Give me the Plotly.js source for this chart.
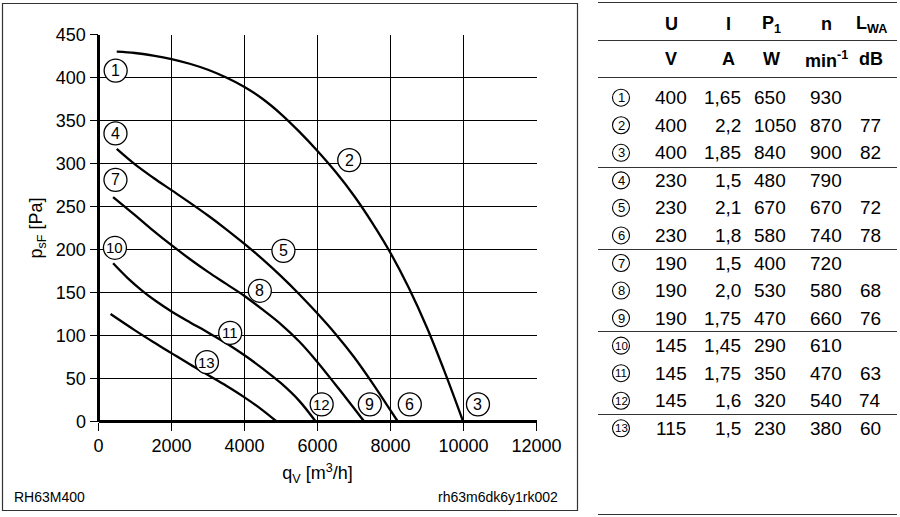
<!DOCTYPE html>
<html><head><meta charset="utf-8">
<script src="https://cdn.plot.ly/plotly-3.0.1.min.js"></script>
<style>html,body{margin:0;padding:0;background:#fff}#chart{width:900px;height:517px}</style>
</head><body><div id="chart"></div><script>
// ---- fan curves (q_V in m3/h, p_sF in Pa) ----
const q123 = [500,1000,1500,2000,2500,3000,3500,4000,4500,5000,5500,6000,6500,7000,7500,8000,8500,9000,9500,9990];
const p123 = [430,428.5,425.5,421.5,416,409,400,389,375,357.5,337,314.5,290,262.5,231,196,155.5,109,56,0];
const q456 = [500,1000,1500,2000,2500,3000,3500,4000,4500,5000,5500,6000,6500,7000,7500,8000,8200];
const p456 = [317,299,283.5,269,254.5,239.5,223.5,206.5,188.5,169,148,125.5,101.5,75,45,13,0];
const q789 = [400,1000,1500,2000,2500,3000,3500,4000,4500,5000,5500,6000,6500,7000,7280];
const p789 = [261,240,222,205,189,174,160,146,130,113,93,69,42.5,15.5,0];
const q101112 = [400,800,1200,1600,2000,2500,3000,3500,4000,4500,5000,5500,5950];
const p101112 = [184,166.8,152,139.2,128,115.5,103.5,91,77,61.5,44.5,24,0];
const q13 = [330,1000,1500,2000,2500,3000,3500,4000,4500,4880];
const p13 = [125,106,92.5,79.5,66.5,54,41.5,28,13,0];

// ---- operating point labels on the chart ----
const labelNames = ['1','2','3','4','5','6','7','8','9','10','11','12','13'];
const labelQ = [470,6870,10396,465,5066,8529,465,4420,7435,450,3608,6114,2970];
const labelP = [408,304,20,335,198.5,20,281,152,20,202,103,20,69];

// ---- axis ticks ----
const xTicks = [0,2000,4000,6000,8000,10000,12000];
const yTicks = [0,50,100,150,200,250,300,350,400,450];

// ---- table ----
const headTop = ['U','I','P<sub>1</sub>','n','L<sub>WA</sub>'];
const headUnit = ['V','A','W','min<sup>-1</sup>','dB'];
const tableU = ['400','400','400','230','230','230','190','190','190','145','145','145','115'];
const tableI = ['1,65','2,2','1,85','1,5','2,1','1,8','1,5','2,0','1,75','1,45','1,75','1,6','1,5'];
const tableP = ['650','1050','840','480','670','580','400','530','470','290','350','320','230'];
const tableN = ['930','870','900','790','670','740','720','580','660','610','470','540','380'];
const tableL = ['','77','82','','72','78','','68','76','','63','74','60'];
const modelLeft = 'RH63M400';
const modelRight = 'rh63m6dk6y1rk002';

const FONT = '"Liberation Sans", Arial, Helvetica, sans-serif';
const curveLine = {color:'#000', width:2.3, shape:'spline', smoothing:1};

const traces = [];
[[q123,p123],[q456,p456],[q789,p789],[q101112,p101112],[q13,p13]].forEach(c => {
  traces.push({type:'scatter', mode:'lines', x:c[0], y:c[1], line:curveLine, hoverinfo:'skip', xaxis:'x', yaxis:'y'});
});
// circles of the chart labels
traces.push({
  type:'scatter', mode:'markers', x:labelQ, y:labelP,
  marker:{symbol:'circle', size:23, color:'#fff', line:{color:'#000', width:1.3}},
  hoverinfo:'skip', xaxis:'x', yaxis:'y', cliponaxis:false
});

// table geometry (pixel coordinates on hidden axis x2/y2)
const rowY0 = 97.7, rowStep = 27.55;
const rowYs = tableU.map((_, i) => rowY0 + i*rowStep);
traces.push({
  type:'scatter', mode:'markers', x:rowYs.map(() => 621), y:rowYs,
  marker:{symbol:'circle', size:17, color:'#fff', line:{color:'#000', width:1.1}},
  hoverinfo:'skip', xaxis:'x2', yaxis:'y2', cliponaxis:false
});

const annotations = [];
labelNames.forEach((t, i) => {
  annotations.push({xref:'x', yref:'y', x:labelQ[i], y:labelP[i], text:t, showarrow:false, xanchor:'center', yanchor:'middle',
    font:{family:FONT, size:t.length > 1 ? 15 : 16, color:'#000'}});
  annotations.push({xref:'x2', yref:'y2', x:621, y:rowYs[i], text:t, showarrow:false, xanchor:'center', yanchor:'middle',
    font:{family:FONT, size:t.length > 1 ? 11.5 : 13, color:'#000'}});
});
const colX = [671, 728, 771, 826, 871];
headTop.forEach((t, i) => annotations.push({xref:'x2', yref:'y2', x:colX[i], y:24, text:'<b>'+t+'</b>', showarrow:false, xanchor:'center', yanchor:'middle', font:{family:FONT, size:18, color:'#000'}}));
headUnit.forEach((t, i) => annotations.push({xref:'x2', yref:'y2', x:colX[i], y:59, text:'<b>'+t+'</b>', showarrow:false, xanchor:'center', yanchor:'middle', font:{family:FONT, size:18, color:'#000'}}));
const cellFont = {family:FONT, size:19, color:'#000'};
rowYs.forEach((y, i) => {
  annotations.push({xref:'x2', yref:'y2', x:671, y:y, text:tableU[i], showarrow:false, xanchor:'center', yanchor:'middle', font:cellFont});
  annotations.push({xref:'x2', yref:'y2', x:743, y:y, text:tableI[i], showarrow:false, xanchor:'right', yanchor:'middle', font:cellFont});
  annotations.push({xref:'x2', yref:'y2', x:752, y:y, text:tableP[i], showarrow:false, xanchor:'left', yanchor:'middle', font:cellFont});
  annotations.push({xref:'x2', yref:'y2', x:826, y:y, text:tableN[i], showarrow:false, xanchor:'center', yanchor:'middle', font:cellFont});
  if (tableL[i]) annotations.push({xref:'x2', yref:'y2', x:870, y:y, text:tableL[i], showarrow:false, xanchor:'center', yanchor:'middle', font:cellFont});
});
annotations.push({xref:'x2', yref:'y2', x:12, y:497, text:modelLeft, showarrow:false, xanchor:'left', yanchor:'middle', font:{family:FONT, size:14, color:'#000'}});
annotations.push({xref:'x2', yref:'y2', x:560, y:497, text:modelRight, showarrow:false, xanchor:'right', yanchor:'middle', font:{family:FONT, size:14, color:'#000'}});

const shapes = [];
// chart frame
shapes.push({type:'rect', xref:'x2', yref:'y2', x0:2.5, x1:577.5, y0:3.5, y1:510.5, line:{color:'#333', width:1.2}, fillcolor:'rgba(0,0,0,0)'});
// table rules
[2.5, 40.5, 77.5, 167.5, 249.5, 331.5, 414.5, 514.5].forEach(y => {
  shapes.push({type:'line', xref:'x2', yref:'y2', x0:598, x1:897, y0:y, y1:y, line:{color:'#333', width:1.2}});
});

const axisCommon = {
  showgrid:true, gridcolor:'#000', gridwidth:1.5,
  zeroline:true, zerolinecolor:'#000', zerolinewidth:2.4, showline:false,
  ticks:'outside', ticklen:8, tickwidth:1.5, tickcolor:'#000',
  tickfont:{family:FONT, size:18, color:'#000'}, fixedrange:true
};
const layout = {
  width:900, height:517,
  margin:{l:0, r:0, t:0, b:0},
  paper_bgcolor:'#fff', plot_bgcolor:'rgba(0,0,0,0)',
  showlegend:false,
  font:{family:FONT, size:18, color:'#000'},
  xaxis:Object.assign({}, axisCommon, {
    domain:[98.5/900, 536.5/900], range:[0,12000], tickvals:xTicks, ticktext:xTicks.map(String),
    title:{text:'q<sub>V</sub> [m<sup>3</sup>/h]', font:{family:FONT, size:18, color:'#000'}, standoff:11},
    anchor:'y'
  }),
  yaxis:Object.assign({}, axisCommon, {
    domain:[95.5/517, 482.5/517], range:[0,450], tickvals:yTicks, ticktext:yTicks.map(String),
    title:{text:'p<sub>sF</sub> [Pa]', font:{family:FONT, size:18, color:'#000'}, standoff:8},
    anchor:'x'
  }),
  xaxis2:{domain:[0,1], range:[0,900], visible:false, anchor:'y2', fixedrange:true},
  yaxis2:{domain:[0,1], range:[517,0], visible:false, anchor:'x2', fixedrange:true},
  annotations:annotations,
  shapes:shapes
};

Plotly.newPlot('chart', traces, layout, {displayModeBar:false, staticPlot:true});
</script></body></html>
